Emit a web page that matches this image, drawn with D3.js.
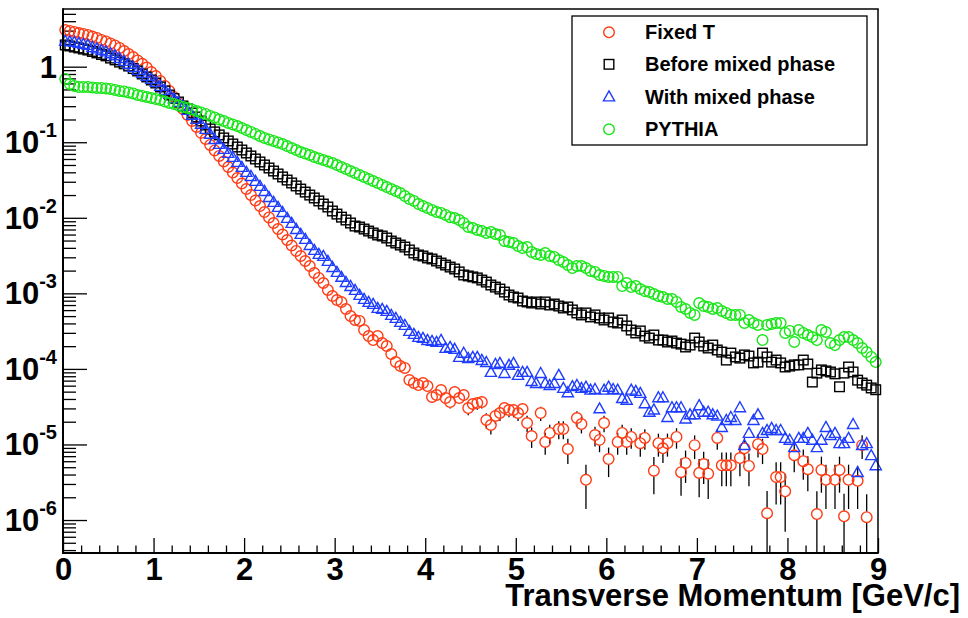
<!DOCTYPE html>
<html>
<head>
<meta charset="utf-8">
<script src="https://cdn.jsdelivr.net/npm/d3@7"></script>
<style>
  html, body { margin: 0; padding: 0; background: #ffffff; }
  svg { display: block; font-family: "Liberation Sans", Arial, Helvetica, sans-serif; font-weight: bold; }
</style>
</head>
<body>
<svg id="chart" width="968" height="618"></svg>
<script>
// Histogram binning in transverse momentum (GeV/c)
const ptMin = 0, ptMax = 9, binWidth = 0.05;

// Bin contents, one entry per 0.05 GeV/c bin; null = empty bin
const fixedT = [
  3.06, 2.97, 2.88, 2.79, 2.71, 2.63, 2.51, 2.40, 2.26, 2.16,
  2.03, 1.91, 1.77, 1.61, 1.47, 1.34, 1.21, 1.09, 0.976, 0.851,
  0.753, 0.647, 0.556, 0.477, 0.397, 0.331, 0.276, 0.230, 0.191, 0.159,
  0.133, 0.110, 0.092, 0.0778, 0.0658, 0.0556, 0.0470, 0.0397, 0.0336, 0.0284,
  0.0240, 0.0200, 0.0169, 0.0143, 0.0119, 0.0101, 0.00853, 0.00710, 0.00601, 0.00508,
  0.00430, 0.00364, 0.00312, 0.00268, 0.00230, 0.00186, 0.00160, 0.00137, 0.00111, 0.000921,
  8.15e-4, 7.67e-4, 6.21e-4, 5.01e-4, 4.44e-4, 4.31e-4, 3.27e-4, 2.72e-4, 2.41e-4, 2.72e-4,
  2.20e-4, 2.01e-4, 1.57e-4, 1.23e-4, 1.09e-4, 1.03e-4, 7.13e-5, 6.50e-5, 6.11e-5, 6.50e-5,
  5.93e-5, 4.25e-5, 4.51e-5, 5.25e-5, 4.11e-5, 3.64e-5, 4.94e-5, 4.11e-5, 4.51e-5, 3.03e-5,
  3.43e-5, 3.53e-5, 3.64e-5, 2.10e-5, 1.81e-5, 2.38e-5, 2.60e-5, 3.03e-5, 2.86e-5, 2.86e-5,
  2.60e-5, 2.94e-5, 1.92e-5, 1.29e-5, null, 2.60e-5, 1.08e-5, 1.42e-5, null, 1.60e-5,
  1.60e-5, 8.7e-6, null, 2.24e-5, 1.86e-5, 3.4e-6, null, 1.33e-5, 1.15e-5, 1.92e-5,
  6.4e-6, null, 1.08e-5, 1.42e-5, 1.08e-5, 1.26e-5, null, 1.04e-5, 1.22e-5, null,
  4.5e-6, 1.04e-5, 8.9e-6, 1.04e-5, null, 1.26e-5, 4.3e-6, 5.7e-6, null, 9.8e-6,
  4.2e-6, 5.5e-6, 4.1e-6, null, 1.22e-5, 5.3e-6, 5.3e-6, 5.3e-6, null, 6.6e-6,
  8.9e-6, 5.2e-6, null, 1.01e-5, 8.7e-6, 1.23e-6, null, 3.7e-6, 3.7e-6, 2.4e-6,
  null, 7.2e-6, null, 6.0e-6, 4.7e-6, null, 1.20e-6, 4.6e-6, 3.4e-6, null,
  3.4e-6, 4.6e-6, 1.12e-6, 3.4e-6, null, 3.3e-6, 9.8e-6, 1.09e-6, null, null
];

// Statistical errors of the Fixed T histogram, starting at bin fixedTErrFirstBin
// (errors of the lower bins stay inside the markers)
const fixedTErrFirstBin = 72;
const fixedTErr = [
  1.34e-5, 1.19e-5, 1.12e-5, 1.09e-5, 9.1e-6, 8.6e-6, 8.4e-6, 8.6e-6,
  8.3e-6, 7.0e-6, 7.2e-6, 7.8e-6, 6.9e-6, 6.5e-6, 7.5e-6, 6.9e-6, 7.2e-6, 5.9e-6,
  6.3e-6, 6.4e-6, 6.5e-6, 4.9e-6, 4.6e-6, 5.2e-6, 5.5e-6, 5.9e-6, 5.7e-6, 5.7e-6,
  5.5e-6, 5.8e-6, 4.7e-6, 3.9e-6, null, 5.5e-6, 3.5e-6, 4.0e-6, null, 4.3e-6,
  4.3e-6, 3.2e-6, null, 5.1e-6, 4.6e-6, 2.0e-6, null, 3.9e-6, 3.6e-6, 4.7e-6,
  2.7e-6, null, 3.5e-6, 4.0e-6, 3.5e-6, 3.8e-6, null, 3.5e-6, 3.7e-6, null,
  2.3e-6, 3.5e-6, 3.2e-6, 3.5e-6, null, 3.8e-6, 2.2e-6, 2.6e-6, null, 3.4e-6,
  2.2e-6, 2.5e-6, 2.2e-6, null, 3.7e-6, 2.5e-6, 2.5e-6, 2.5e-6, null, 2.8e-6,
  3.2e-6, 2.4e-6, null, 3.4e-6, 3.2e-6, 1.2e-6, null, 2.1e-6, 2.1e-6, 1.7e-6,
  null, 2.9e-6, null, 2.6e-6, 2.3e-6, null, 1.2e-6, 2.3e-6, 2.0e-6, null,
  2.0e-6, 2.3e-6, 1.1e-6, 2.0e-6, null, 1.9e-6, 3.4e-6, 1.1e-6, null, null
];

const beforeMixed = [
  1.94, 1.88, 1.82, 1.77, 1.71, 1.66, 1.59, 1.52, 1.45, 1.39,
  1.30, 1.23, 1.15, 1.09, 1.02, 0.946, 0.877, 0.800, 0.731, 0.667,
  0.608, 0.539, 0.477, 0.422, 0.379, 0.341, 0.302, 0.276, 0.244, 0.216,
  0.191, 0.169, 0.150, 0.137, 0.125, 0.114, 0.104, 0.0948, 0.0865, 0.0789,
  0.0721, 0.0658, 0.0600, 0.0548, 0.0500, 0.0456, 0.0416, 0.0380, 0.0347, 0.0316,
  0.0289, 0.0264, 0.0240, 0.0219, 0.0200, 0.0183, 0.0167, 0.0152, 0.0139, 0.0123,
  0.0112, 0.0102, 0.00935, 0.00853, 0.00778, 0.00755, 0.00710, 0.00668, 0.00629, 0.00592,
  0.00574, 0.00540, 0.00493, 0.00464, 0.00436, 0.00410, 0.00375, 0.00342, 0.00322, 0.00312,
  0.00294, 0.00285, 0.00268, 0.00252, 0.00237, 0.00223, 0.00210, 0.00192, 0.00175, 0.00170,
  0.00165, 0.00160, 0.00150, 0.00141, 0.00129, 0.00121, 0.00114, 0.00104, 9.51e-4, 8.95e-4,
  8.68e-4, 7.92e-4, 7.69e-4, 7.45e-4, 7.69e-4, 7.23e-4, 7.69e-4, 7.01e-4, 7.23e-4, 6.80e-4,
  6.40e-4, 6.60e-4, 6.03e-4, 5.50e-4, 5.18e-4, 5.50e-4, 4.87e-4, 5.18e-4, 4.72e-4, 4.44e-4,
  4.72e-4, 4.18e-4, 4.05e-4, 4.44e-4, 3.70e-4, 3.27e-4, 2.99e-4, 3.18e-4, 2.72e-4, 2.56e-4,
  2.81e-4, 2.41e-4, 2.41e-4, 2.27e-4, 2.34e-4, 2.20e-4, 2.13e-4, 1.95e-4, 2.07e-4, 2.56e-4,
  2.27e-4, 2.01e-4, 1.89e-4, 2.07e-4, 1.78e-4, 1.67e-4, 1.31e-4, 1.62e-4, 1.44e-4, 1.39e-4,
  1.53e-4, 1.48e-4, 1.20e-4, 1.23e-4, 1.62e-4, 1.44e-4, 1.23e-4, 1.31e-4, 1.20e-4, 1.06e-4,
  1.09e-4, 1.13e-4, 1.13e-4, 1.31e-4, 1.16e-4, 6.7e-5, 8.8e-5, 9.7e-5, 9.4e-5, 9.1e-5,
  8.6e-5, 5.8e-5, 8.8e-5, 1.06e-4, 9.1e-5, 7.1e-5, 6.5e-5, 6.1e-5, 5.6e-5, 5.3e-5
];

const withMixed = [
  2.19, 2.16, 2.12, 2.06, 2.00, 1.94, 1.82, 1.74, 1.66, 1.59,
  1.50, 1.41, 1.30, 1.19, 1.09, 0.991, 0.904, 0.826, 0.753, 0.687,
  0.627, 0.556, 0.492, 0.436, 0.380, 0.341, 0.302, 0.267, 0.230, 0.203,
  0.175, 0.150, 0.129, 0.110, 0.0948, 0.0815, 0.0722, 0.0639, 0.0548, 0.0470,
  0.0404, 0.0357, 0.0307, 0.0264, 0.0226, 0.0188, 0.0162, 0.0139, 0.0119, 0.00993,
  0.00853, 0.00710, 0.00610, 0.00524, 0.00436, 0.00375, 0.00332, 0.00312, 0.00268, 0.00223,
  0.00192, 0.00165, 0.00141, 0.00125, 0.00111, 9.51e-4, 8.43e-4, 7.69e-4, 7.23e-4, 6.40e-4,
  6.21e-4, 5.85e-4, 5.18e-4, 4.72e-4, 4.18e-4, 3.81e-4, 3.18e-4, 2.90e-4, 2.65e-4, 2.57e-4,
  2.41e-4, 2.34e-4, 2.27e-4, 2.41e-4, 1.89e-4, 1.95e-4, 1.84e-4, 1.44e-4, 1.63e-4, 1.39e-4,
  1.44e-4, 1.44e-4, 1.31e-4, 1.23e-4, 9.1e-5, 1.16e-4, 1.20e-4, 8.8e-5, 1.13e-4, 1.20e-4,
  8.3e-5, 9.1e-5, 9.1e-5, 6.9e-5, 6.5e-5, 8.8e-5, 6.5e-5, 6.1e-5, 6.5e-5, 8.3e-5,
  5.6e-5, 4.9e-5, 5.9e-5, 6.1e-5, 5.6e-5, 5.8e-5, 5.3e-5, 5.4e-5, 3.0e-5, 5.3e-5,
  5.8e-5, 5.4e-5, 5.3e-5, 4.1e-5, 3.9e-5, 5.3e-5, 5.1e-5, 4.8e-5, 3.5e-5, 2.7e-5,
  2.9e-5, 4.2e-5, 4.2e-5, 2.3e-5, 3.1e-5, 3.1e-5, 3.1e-5, 2.2e-5, 2.5e-5, 2.5e-5,
  3.3e-5, 2.7e-5, 2.7e-5, 2.5e-5, 2.4e-5, 1.7e-5, 2.1e-5, 2.3e-5, 2.1e-5, 3.1e-5,
  9.8e-6, 1.42e-5, 2.1e-5, 2.5e-5, 1.42e-5, 1.55e-5, 1.65e-5, 1.55e-5, 1.55e-5, 1.22e-5,
  1.15e-5, 9.2e-6, 1.22e-5, 1.22e-5, 1.42e-5, 1.15e-5, 9.2e-6, 1.15e-5, 1.7e-5, 1.33e-5,
  1.42e-5, 1.04e-5, 1.04e-5, 1.22e-5, 1.86e-5, 4.3e-6, 9.8e-6, 1.04e-5, 7.2e-6, 5.3e-6
];

const pythia = [
  0.687, 0.590, 0.556, 0.539, 0.539, 0.539, 0.531, 0.523, 0.523, 0.515,
  0.507, 0.492, 0.477, 0.470, 0.456, 0.442, 0.422, 0.410, 0.397, 0.385,
  0.374, 0.362, 0.346, 0.331, 0.321, 0.306, 0.293, 0.284, 0.271, 0.259,
  0.248, 0.237, 0.223, 0.213, 0.200, 0.191, 0.180, 0.172, 0.164, 0.154,
  0.145, 0.137, 0.129, 0.121, 0.114, 0.109, 0.104, 0.0993, 0.0948, 0.0892,
  0.0839, 0.0789, 0.0743, 0.0710, 0.0678, 0.0638, 0.0610, 0.0582, 0.0556, 0.0531,
  0.0500, 0.0470, 0.0443, 0.0416, 0.0392, 0.0368, 0.0347, 0.0326, 0.0307, 0.0289,
  0.0272, 0.0255, 0.0240, 0.0226, 0.0213, 0.0194, 0.0177, 0.0167, 0.0152, 0.0143,
  0.0135, 0.0127, 0.0119, 0.0116, 0.0109, 0.0102, 0.00993, 0.00935, 0.00853, 0.00755,
  0.00733, 0.00690, 0.00668, 0.00629, 0.00649, 0.00610, 0.00592, 0.00493, 0.00478, 0.00464,
  0.00423, 0.00398, 0.00410, 0.00352, 0.00332, 0.00322, 0.00342, 0.00312, 0.00303, 0.00276,
  0.00260, 0.00237, 0.00216, 0.00230, 0.00230, 0.00216, 0.00198, 0.00192, 0.00175, 0.00170,
  0.00165, 0.00165, 0.00165, 0.00125, 0.00137, 0.00121, 0.00125, 0.00114, 0.00107, 0.00104,
  9.80e-4, 9.22e-4, 8.95e-4, 8.42e-4, 8.42e-4, 7.69e-4, 6.60e-4, 6.21e-4, 5.50e-4, 5.18e-4,
  7.45e-4, 6.80e-4, 6.60e-4, 6.21e-4, 6.40e-4, 5.84e-4, 5.50e-4, 5.18e-4, 5.18e-4, 5.18e-4,
  4.05e-4, 4.44e-4, 4.05e-4, 3.81e-4, 2.41e-4, 3.81e-4, 3.93e-4, 4.05e-4, 4.05e-4, 2.99e-4,
  3.18e-4, 2.27e-4, 3.27e-4, 2.99e-4, 2.81e-4, 2.64e-4, 2.41e-4, 3.27e-4, 3.08e-4, 2.20e-4,
  2.07e-4, 2.41e-4, 2.64e-4, 2.64e-4, 2.41e-4, 2.20e-4, 1.89e-4, 1.67e-4, 1.44e-4, 1.23e-4
];

// Axis ticks and labels
const xTickValues = [0, 1, 2, 3, 4, 5, 6, 7, 8, 9];
const xTickLabels = ["0", "1", "2", "3", "4", "5", "6", "7", "8", "9"];
const yTickValues = [1, 1e-1, 1e-2, 1e-3, 1e-4, 1e-5, 1e-6];
const yTickBase = ["1", "10", "10", "10", "10", "10", "10"];
const yTickExp = ["", "-1", "-2", "-3", "-4", "-5", "-6"];
const xTitle = "Transverse Momentum [GeV/c]";

const seriesNames = ["Fixed T", "Before mixed phase", "With mixed phase", "PYTHIA"];

// ---------------------------------------------------------------
const W = 968, H = 618;
const frame = { left: 63, right: 878, top: 9, bottom: 553 };

const x = d3.scaleLinear().domain([ptMin, ptMax]).range([frame.left, frame.right]);
const y = d3.scaleLog().domain([3.66e-7, 5.8]).range([frame.bottom, frame.top]);

const svg = d3.select("#chart");
svg.append("rect").attr("width", W).attr("height", H).attr("fill", "#ffffff");

svg.append("clipPath").attr("id", "frameClip")
  .append("rect")
  .attr("x", frame.left).attr("y", frame.top)
  .attr("width", frame.right - frame.left)
  .attr("height", frame.bottom - frame.top);

function binCenter(i) { return ptMin + (i + 0.5) * binWidth; }

// marker shapes (ROOT open circle / open square / open triangle)
function addMarker(g, shape, color) {
  const sw = 1.4;
  if (shape === "circle") {
    g.append("circle").attr("r", 5.3)
      .attr("fill", "none").attr("stroke", color).attr("stroke-width", sw);
  } else if (shape === "square") {
    g.append("rect").attr("x", -4.8).attr("y", -4.8).attr("width", 9.6).attr("height", 9.6)
      .attr("fill", "none").attr("stroke", color).attr("stroke-width", sw);
  } else {
    g.append("path").attr("d", "M0,-5.6L5.6,4.4L-5.6,4.4Z")
      .attr("fill", "none").attr("stroke", color).attr("stroke-width", sw)
      .attr("stroke-linejoin", "miter");
  }
}

const series = [
  { name: seriesNames[0], values: fixedT, shape: "circle", color: "#ff3b14",
    errors: fixedTErr, errFirst: fixedTErrFirstBin },
  { name: seriesNames[1], values: beforeMixed, shape: "square", color: "#000000" },
  { name: seriesNames[2], values: withMixed, shape: "triangle", color: "#1f3dff" },
  { name: seriesNames[3], values: pythia, shape: "circle", color: "#17e617" }
];

// ---- axes ----
const xMinorTicks = d3.range(0, 45).map(k => k * 0.2).filter(v => Math.abs(v - Math.round(v)) > 1e-6 && v < ptMax);
const yMinorTicks = [];
for (let e = -7; e <= 0; e++) {
  for (let m = 2; m <= 9; m++) {
    const v = m * Math.pow(10, e);
    if (v > y.domain()[0] && v < y.domain()[1]) yMinorTicks.push(v);
  }
}

function styleAxis(g) {
  g.select(".domain").remove();
  g.selectAll(".tick line").attr("stroke", "#000").attr("stroke-width", 1.3);
}

svg.append("g")
  .attr("transform", `translate(0,${frame.bottom})`)
  .call(d3.axisBottom(x).tickValues(xMinorTicks).tickSizeInner(-7.5).tickSizeOuter(0).tickFormat(""))
  .call(styleAxis);

const xAxisG = svg.append("g")
  .attr("transform", `translate(0,${frame.bottom})`)
  .call(d3.axisBottom(x).tickValues(xTickValues).tickSizeInner(-15).tickSizeOuter(0)
    .tickPadding(5).tickFormat((d, i) => xTickLabels[i]))
  .call(styleAxis);
xAxisG.selectAll(".tick text")
  .attr("fill", "#000").attr("font-size", 31).attr("font-weight", "bold")
  .attr("font-family", "'Liberation Sans', Arial, Helvetica, sans-serif");

svg.append("g")
  .attr("transform", `translate(${frame.left},0)`)
  .call(d3.axisLeft(y).tickValues(yMinorTicks).tickSizeInner(-13).tickSizeOuter(0).tickFormat(""))
  .call(styleAxis);

svg.append("g")
  .attr("transform", `translate(${frame.left},0)`)
  .call(d3.axisLeft(y).tickValues(yTickValues).tickSizeInner(-24).tickSizeOuter(0).tickFormat(""))
  .call(styleAxis);

// y labels: 1, 10^-1 ... 10^-6
const yLab = svg.append("g").attr("font-size", 31).attr("fill", "#000");
yTickValues.forEach((v, i) => {
  const t = yLab.append("text")
    .attr("x", 57)
    .attr("y", y(v) + 11)
    .attr("text-anchor", "end");
  t.append("tspan").text(yTickBase[i]);
  if (yTickExp[i]) {
    t.append("tspan").attr("font-size", 20).attr("dy", -16).text(yTickExp[i]);
  }
});

// x axis title
svg.append("text")
  .attr("x", 960).attr("y", 606)
  .attr("text-anchor", "end")
  .attr("font-size", 31)
  .attr("fill", "#000")
  .text(xTitle);

// ---- data ----
const plot = svg.append("g");
const markerGap = 5.5;

series.forEach(s => {
  const pts = s.values
    .map((v, i) => ({ i, v, pt: binCenter(i) }))
    .filter(d => d.v !== null && d.v > 0);

  if (s.errors) {
    const errG = plot.append("g").attr("clip-path", "url(#frameClip)")
      .attr("stroke", "#000").attr("stroke-width", 1.3);
    pts.forEach(d => {
      const k = d.i - s.errFirst;
      if (k < 0) return;
      const e = s.errors[k];
      if (!e) return;
      const cx = x(d.pt), cy = y(d.v);
      const yUp = y(d.v + e);
      const yDn = (d.v - e) > 0 ? Math.min(y(d.v - e), frame.bottom) : frame.bottom;
      if (yUp < cy - markerGap) {
        errG.append("line").attr("x1", cx).attr("x2", cx).attr("y1", yUp).attr("y2", cy - markerGap);
      }
      if (yDn > cy + markerGap) {
        errG.append("line").attr("x1", cx).attr("x2", cx).attr("y1", cy + markerGap).attr("y2", yDn);
      }
    });
  }

  const mg = plot.append("g");
  pts.forEach(d => {
    const g = mg.append("g").attr("transform", `translate(${x(d.pt)},${y(d.v)})`);
    addMarker(g, s.shape, s.color);
  });
});

// ---- frame ----
svg.append("line").attr("x1", frame.left).attr("x2", frame.right + 0.75)
  .attr("y1", frame.top).attr("y2", frame.top).attr("stroke", "#000").attr("stroke-width", 1.5);
svg.append("line").attr("x1", frame.right).attr("x2", frame.right)
  .attr("y1", frame.top).attr("y2", frame.bottom).attr("stroke", "#000").attr("stroke-width", 1.5);
svg.append("line").attr("x1", frame.left).attr("x2", frame.left)
  .attr("y1", frame.top - 0.75).attr("y2", frame.bottom + 1).attr("stroke", "#000").attr("stroke-width", 2);
svg.append("line").attr("x1", frame.left - 1).attr("x2", frame.right + 0.75)
  .attr("y1", frame.bottom).attr("y2", frame.bottom).attr("stroke", "#000").attr("stroke-width", 2);

// ---- legend ----
const legend = svg.append("g");
legend.append("rect")
  .attr("x", 572).attr("y", 16).attr("width", 295).attr("height", 129)
  .attr("fill", "#fff").attr("stroke", "#000").attr("stroke-width", 1.3);
const rowY = [32.3, 64.3, 96.5, 129.3];
series.forEach((s, i) => {
  const g = legend.append("g").attr("transform", `translate(609,${rowY[i]})`);
  addMarker(g, s.shape, s.color);
  legend.append("text")
    .attr("x", 645).attr("y", rowY[i] + 7)
    .attr("font-size", 20).attr("fill", "#000")
    .text(s.name);
});
</script>
</body>
</html>
